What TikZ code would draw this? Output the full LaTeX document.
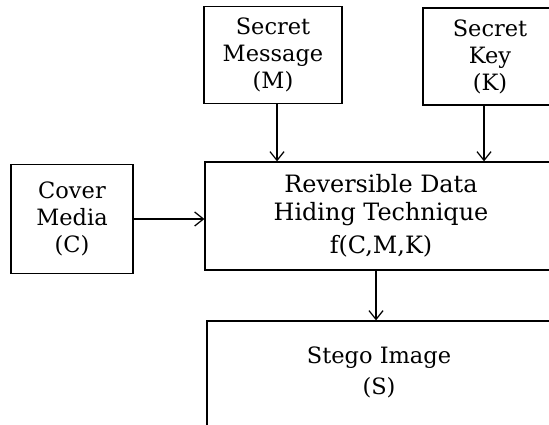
\documentclass[tikz,border=0pt]{standalone}
\usepackage{fontspec}
\setmainfont{DejaVu Serif}
\usetikzlibrary{arrows.meta, positioning, calc}
\tikzset{
	blockbox/.style={draw, line width=0.7pt, align=center, inner sep=0pt,
			font=\fontsize{12.8}{15.4}\selectfont}
}
\tikzset{
	flowarrow/.style={line width=0.7pt, -{Straight Barb[length=5pt,width=8pt]}}
}

\begin{document}
\begin{tikzpicture}

			\useasboundingbox (0,0) rectangle (10.98,8.5);
			\clip (0,0) rectangle (10.98,8.5);

			\begin{scope}
				\node[blockbox, minimum width=2.76cm, minimum height=1.94cm] (msg) at (5.46,7.40)
				{Secret\\Message\\(M)};
				\node[blockbox, minimum width=2.68cm, minimum height=1.94cm] (key) at (9.80,7.37)
				{Secret\\Key\\(K)};
			\end{scope}

			\begin{scope}
				\node[blockbox, minimum width=2.44cm, minimum height=2.18cm] (cover) at (1.44,4.12)
				{Cover\\Media\\(C)};
				\node[blockbox, minimum width=7.04cm, minimum height=2.16cm,
					font=\fontsize{13.6}{15.8}\selectfont] (main) at (7.62,4.18)
				{Reversible Data\\Hiding Technique\\[3pt]f(C,M,K)};
			\end{scope}

			\begin{scope}
				\node[blockbox, minimum width=6.88cm, minimum height=2.6cm] (stego) at (7.58,0.78) {};
				\node[font=\fontsize{12.8}{15}\selectfont, align=center, below=0.4cm of stego.north] (stegotext)
				{Stego Image\\[3pt](S)};
			\end{scope}

			\draw[flowarrow] ([xshift=0.08cm]msg.south) -- ([xshift=0.08cm]msg.south |- main.north);
			\draw[flowarrow] ([xshift=-0.12cm]key.south) -- ([xshift=-0.12cm]key.south |- main.north);
			\draw[flowarrow] (cover.east) -- (cover.east -| main.west);
			\draw[flowarrow] ([xshift=-0.1cm]main.south) -- ([xshift=-0.1cm]main.south |- stego.north);

		\end{tikzpicture}
\end{document}
